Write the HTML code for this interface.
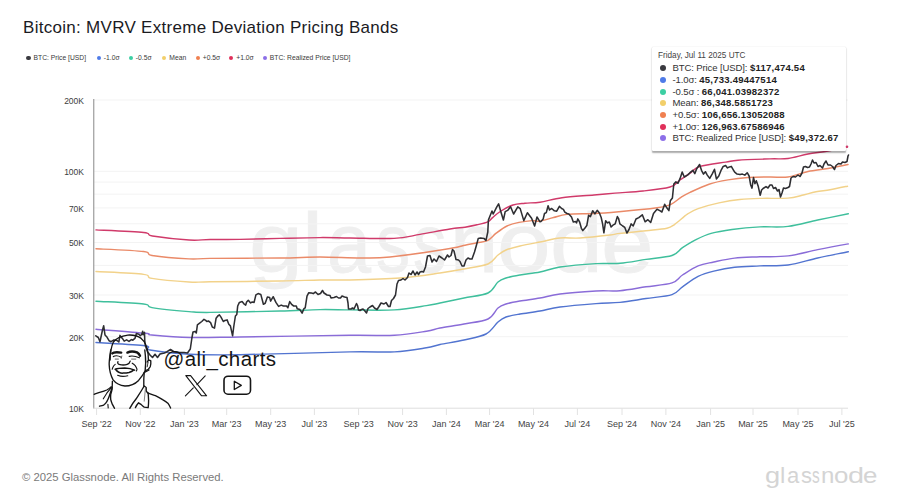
<!DOCTYPE html>
<html><head><meta charset="utf-8"><style>
html,body{margin:0;padding:0;background:#fff;}
body{width:900px;height:500px;position:relative;overflow:hidden;font-family:"Liberation Sans",sans-serif;}
.title{position:absolute;left:23px;top:18.2px;font-size:17px;letter-spacing:0.29px;color:#1b1b1f;white-space:nowrap;line-height:20px;}
.lg{position:absolute;top:53px;font-size:6.75px;color:#3a3a3a;white-space:nowrap;line-height:9px;}
.lg i{display:inline-block;width:4.4px;height:4.4px;border-radius:50%;margin-right:2.8px;vertical-align:-0.2px;}
.yl{position:absolute;left:40px;width:44px;text-align:right;font-size:8.5px;color:#3c3c3c;line-height:10px;}
.xl{position:absolute;top:419px;width:60px;text-align:center;font-size:9px;color:#444;line-height:11px;}
.wm{position:absolute;top:182.5px;font-size:84px;color:#efefef;line-height:120px;-webkit-text-stroke:0.8px #efefef;transform-origin:0 0;}
.tip{position:absolute;left:652px;top:47px;width:194px;height:104px;background:#fff;box-shadow:0 1.2px 1.5px rgba(0,0,0,0.32), 0 0 1px rgba(0,0,0,0.18);border-radius:1px;}
.tip .dt{position:absolute;left:6px;top:4.2px;font-size:8.2px;color:#444;white-space:nowrap;line-height:10px;}
.tr{position:absolute;left:7.5px;font-size:9.55px;color:#333;letter-spacing:-0.12px;white-space:nowrap;line-height:12px;}
.tr i{display:inline-block;width:6px;height:6px;border-radius:50%;margin-right:7px;vertical-align:0px;}
.tr b{color:#222;letter-spacing:0.22px;}
.foot{position:absolute;left:22px;top:470px;font-size:11.3px;color:#7a7a7a;white-space:nowrap;line-height:14px;}
.logo{position:absolute;top:416.0px;font-size:22px;color:#d4d4d4;line-height:120px;transform-origin:0 0;}
.handle{position:absolute;left:163.5px;top:346.6px;font-size:20.5px;letter-spacing:0.4px;color:#151515;white-space:nowrap;line-height:24px;}
svg{position:absolute;left:0;top:0;}
</style></head><body>
<div class="title">Bitcoin: MVRV Extreme Deviation Pricing Bands</div>
<div class="lg" style="left:26.400000000000002px"><i style="background:#3a3a40"></i>BTC: Price [USD]</div><div class="lg" style="left:96.6px"><i style="background:#4f7be8"></i>-1.0σ</div><div class="lg" style="left:128.6px"><i style="background:#3ccfa3"></i>-0.5σ</div><div class="lg" style="left:162.1px"><i style="background:#f2cf6a"></i>Mean</div><div class="lg" style="left:195.6px"><i style="background:#f08050"></i>+0.5σ</div><div class="lg" style="left:229.1px"><i style="background:#e0305a"></i>+1.0σ</div><div class="lg" style="left:262.6px"><i style="background:#8c6fe8"></i>BTC: Realized Price [USD]</div>
<div class="wm" style="left:248.7px;transform:scaleX(1.154)">g</div><div class="wm" style="left:302.4px;transform:scaleX(1.125)">l</div><div class="wm" style="left:326.7px;transform:scaleX(0.943)">a</div><div class="wm" style="left:376.4px;transform:scaleX(0.811)">s</div><div class="wm" style="left:413.4px;transform:scaleX(0.797)">s</div><div class="wm" style="left:449.9px;transform:scaleX(1.027)">n</div><div class="wm" style="left:496.6px;transform:scaleX(1.146)">o</div><div class="wm" style="left:549.6px;transform:scaleX(1.128)">d</div><div class="wm" style="left:600.6px;transform:scaleX(1.125)">e</div>
<svg width="900" height="500" viewBox="0 0 900 500">
<g stroke="#f3f3f3" stroke-width="1"><line x1="94" x2="848" y1="100.0" y2="100.0" /><line x1="94" x2="848" y1="171.3" y2="171.3" /><line x1="94" x2="848" y1="182.1" y2="182.1" /><line x1="94" x2="848" y1="194.2" y2="194.2" /><line x1="94" x2="848" y1="207.9" y2="207.9" /><line x1="94" x2="848" y1="223.8" y2="223.8" /><line x1="94" x2="848" y1="242.5" y2="242.5" /><line x1="94" x2="848" y1="265.4" y2="265.4" /><line x1="94" x2="848" y1="295.0" y2="295.0" /><line x1="94" x2="848" y1="336.7" y2="336.7" /><line x1="94" x2="848" y1="408.0" y2="408.0" /></g>
<g stroke="#e2e2e2" stroke-width="1"><line x1="96.6" x2="96.6" y1="408" y2="415"/><line x1="140.3" x2="140.3" y1="408" y2="415"/><line x1="184.4" x2="184.4" y1="408" y2="415"/><line x1="226.7" x2="226.7" y1="408" y2="415"/><line x1="270.7" x2="270.7" y1="408" y2="415"/><line x1="314.4" x2="314.4" y1="408" y2="415"/><line x1="358.6" x2="358.6" y1="408" y2="415"/><line x1="402.6" x2="402.6" y1="408" y2="415"/><line x1="446.4" x2="446.4" y1="408" y2="415"/><line x1="489.6" x2="489.6" y1="408" y2="415"/><line x1="533.5" x2="533.5" y1="408" y2="415"/><line x1="577.4" x2="577.4" y1="408" y2="415"/><line x1="622" x2="622" y1="408" y2="415"/><line x1="665.9" x2="665.9" y1="408" y2="415"/><line x1="710.6" x2="710.6" y1="408" y2="415"/><line x1="753" x2="753" y1="408" y2="415"/><line x1="798" x2="798" y1="408" y2="415"/><line x1="841.9" x2="841.9" y1="408" y2="415"/></g>
<line x1="93.7" x2="93.7" y1="99" y2="409" stroke="#aaaaaa" stroke-width="1.4"/>
<line x1="93" x2="848" y1="408.3" y2="408.3" stroke="#e4e4e4" stroke-width="1"/>
<path fill="none" stroke="#5274d0" stroke-width="1.45" stroke-linejoin="round" stroke-linecap="round" d="M96.0,342.5 C104.2,343.1 136.0,344.6 145.0,345.8 C154.0,347.1 142.5,348.6 150.0,350.0 C157.5,351.4 175.0,353.4 190.0,354.2 C205.0,355.0 213.3,355.1 240.0,354.7 C266.7,354.3 324.3,352.4 350.0,351.9 C375.7,351.4 381.7,352.6 394.4,351.9 C407.1,351.2 418.8,349.0 426.4,347.8 C434.0,346.6 433.7,345.8 440.0,344.5 C446.3,343.2 456.3,341.8 464.0,340.0 C471.7,338.2 480.3,337.0 486.0,334.0 C491.7,331.0 494.7,324.8 498.0,322.0 C501.3,319.2 502.3,318.3 506.0,317.0 C509.7,315.7 514.3,315.0 520.0,314.0 C525.7,313.0 533.3,312.2 540.0,311.0 C546.7,309.8 550.7,308.2 560.0,307.0 C569.3,305.8 586.0,304.4 596.0,303.6 C606.0,302.8 611.7,303.2 620.0,302.4 C628.3,301.5 637.3,299.8 646.0,298.5 C654.7,297.2 665.9,296.6 672.0,294.6 C678.1,292.7 678.1,289.8 682.5,286.8 C686.9,283.8 692.9,279.0 698.1,276.4 C703.3,273.8 707.7,272.6 713.8,271.1 C719.9,269.6 726.9,268.1 734.6,267.2 C742.3,266.3 751.1,266.3 760.0,265.9 C768.9,265.5 778.5,266.3 788.1,265.0 C797.7,263.7 807.7,260.2 817.7,258.0 C827.7,255.8 843.2,252.8 848.3,251.7"/><path fill="none" stroke="#8a6cd8" stroke-width="1.45" stroke-linejoin="round" stroke-linecap="round" d="M96.0,329.2 C104.2,329.9 135.7,332.3 145.0,333.3 C154.3,334.3 144.2,334.3 151.7,335.0 C159.2,335.7 175.3,337.2 190.0,337.5 C204.7,337.8 213.3,337.4 240.0,337.0 C266.7,336.6 324.3,335.6 350.0,335.3 C375.7,335.0 381.7,336.0 394.4,335.3 C407.1,334.6 418.8,332.4 426.4,331.2 C434.0,330.0 433.7,329.2 440.0,328.0 C446.3,326.8 456.0,325.5 464.0,324.0 C472.0,322.5 482.3,321.7 488.0,319.0 C493.7,316.3 495.0,310.5 498.0,308.0 C501.0,305.5 502.3,305.2 506.0,304.0 C509.7,302.8 514.3,302.0 520.0,301.0 C525.7,300.0 533.3,299.2 540.0,298.0 C546.7,296.8 550.7,295.2 560.0,294.0 C569.3,292.8 586.0,291.6 596.0,291.0 C606.0,290.4 611.7,291.4 620.0,290.7 C628.3,290.0 637.3,288.1 646.0,286.8 C654.7,285.5 665.9,284.9 672.0,282.9 C678.1,280.9 678.1,277.8 682.5,275.0 C686.9,272.2 692.9,268.1 698.1,265.9 C703.3,263.7 707.7,263.3 713.8,262.0 C719.9,260.7 726.9,259.0 734.6,258.1 C742.3,257.2 751.1,257.2 760.0,256.8 C768.9,256.4 778.5,257.1 788.1,255.9 C797.7,254.7 807.7,251.6 817.7,249.6 C827.7,247.6 843.2,244.8 848.3,243.9"/><path fill="none" stroke="#3fbf9c" stroke-width="1.45" stroke-linejoin="round" stroke-linecap="round" d="M96.0,301.2 C103.9,301.7 134.3,302.9 143.6,304.0 C152.9,305.1 144.4,306.3 152.0,307.6 C159.6,308.9 179.3,310.8 189.0,311.6 C198.7,312.4 194.8,312.5 210.0,312.4 C225.2,312.3 261.7,311.5 280.0,311.0 C298.3,310.5 308.3,309.8 320.0,309.6 C331.7,309.4 337.6,309.8 350.0,309.9 C362.4,309.9 381.7,310.6 394.4,309.9 C407.1,309.2 418.8,306.8 426.4,305.6 C434.0,304.5 433.7,304.3 440.0,303.0 C446.3,301.7 456.0,299.7 464.0,298.0 C472.0,296.3 482.3,295.7 488.0,293.0 C493.7,290.3 495.0,284.5 498.0,282.0 C501.0,279.5 502.3,279.2 506.0,278.0 C509.7,276.8 514.3,276.0 520.0,275.0 C525.7,274.0 533.3,273.3 540.0,272.0 C546.7,270.7 550.7,268.4 560.0,267.0 C569.3,265.6 586.0,264.2 596.0,263.6 C606.0,263.0 611.7,264.0 620.0,263.3 C628.3,262.6 637.3,260.7 646.0,259.4 C654.7,258.1 665.9,257.4 672.0,255.5 C678.1,253.6 678.6,250.3 682.5,247.7 C686.4,245.1 690.7,242.3 695.5,239.9 C700.3,237.5 705.0,235.1 711.1,233.4 C717.2,231.7 723.9,230.6 732.0,229.5 C740.1,228.4 750.6,227.4 760.0,226.9 C769.4,226.4 778.5,227.6 788.1,226.4 C797.7,225.2 807.7,222.1 817.7,220.0 C827.7,217.9 843.2,214.8 848.3,213.7"/><path fill="none" stroke="#f2d28a" stroke-width="1.45" stroke-linejoin="round" stroke-linecap="round" d="M96.0,271.5 C103.9,272.0 134.3,273.2 143.6,274.4 C152.9,275.5 144.4,277.1 152.0,278.4 C159.6,279.7 179.3,281.4 189.0,282.0 C198.7,282.6 194.8,282.0 210.0,281.8 C225.2,281.6 261.7,281.3 280.0,281.0 C298.3,280.7 308.3,280.2 320.0,280.0 C331.7,279.8 336.7,280.3 350.0,280.0 C363.3,279.7 385.0,279.2 400.0,278.0 C415.0,276.8 429.3,274.5 440.0,273.0 C450.7,271.5 456.0,270.5 464.0,269.0 C472.0,267.5 482.3,266.3 488.0,264.0 C493.7,261.7 495.0,257.3 498.0,255.0 C501.0,252.7 502.3,251.5 506.0,250.0 C509.7,248.5 514.3,247.3 520.0,246.0 C525.7,244.7 533.3,243.3 540.0,242.0 C546.7,240.7 553.3,238.7 560.0,238.0 C566.7,237.3 571.7,238.5 580.0,238.0 C588.3,237.5 603.3,235.8 610.0,235.0 C616.7,234.2 614.0,234.1 620.0,233.4 C626.0,232.7 638.2,231.7 646.0,230.8 C653.8,229.9 662.1,229.3 666.9,228.2 C671.7,227.1 671.2,226.7 674.7,224.3 C678.2,221.9 683.8,216.5 687.7,213.9 C691.6,211.3 692.9,210.4 698.1,208.6 C703.3,206.8 712.0,204.4 719.0,202.9 C726.0,201.4 733.0,200.2 739.8,199.5 C746.6,198.8 752.0,198.6 760.0,198.4 C768.0,198.2 781.0,198.6 788.0,198.1 C795.0,197.6 797.3,196.4 802.0,195.3 C806.7,194.2 811.3,192.7 816.0,191.8 C820.7,190.9 824.8,190.6 830.0,189.7 C835.2,188.8 844.6,186.8 847.5,186.2"/><path fill="none" stroke="#ea8a68" stroke-width="1.45" stroke-linejoin="round" stroke-linecap="round" d="M96.0,248.8 C103.9,249.2 134.3,250.4 143.6,251.5 C152.9,252.6 144.4,254.3 152.0,255.5 C159.6,256.7 179.3,258.4 189.0,258.9 C198.7,259.4 194.8,258.5 210.0,258.4 C225.2,258.2 261.7,258.2 280.0,258.0 C298.3,257.8 306.7,257.0 320.0,257.0 C333.3,257.0 348.3,258.0 360.0,258.0 C371.7,258.0 375.0,258.6 390.0,257.0 C405.0,255.4 437.5,250.5 450.0,248.5 C462.5,246.5 460.5,246.1 465.0,245.2 C469.5,244.2 473.2,243.6 477.0,242.8 C480.8,242.0 484.6,242.0 487.8,240.4 C491.0,238.8 493.0,235.6 496.2,233.2 C499.4,230.8 503.2,227.8 507.0,226.0 C510.8,224.2 514.8,223.3 519.0,222.4 C523.2,221.5 528.7,220.8 532.2,220.6 C535.7,220.4 536.5,221.6 540.0,221.1 C543.5,220.6 549.0,218.6 553.5,217.5 C558.0,216.4 560.2,215.1 567.0,214.4 C573.8,213.7 585.3,213.9 594.0,213.5 C602.7,213.1 608.5,212.6 619.0,211.7 C629.5,210.8 648.3,209.0 657.0,207.8 C665.7,206.6 667.0,206.1 671.0,204.3 C675.0,202.6 677.8,199.3 681.0,197.3 C684.2,195.3 685.3,194.6 690.0,192.4 C694.7,190.2 702.7,186.3 709.0,184.2 C715.3,182.1 721.5,181.0 728.0,179.9 C734.5,178.8 741.0,178.0 748.0,177.5 C755.0,177.0 763.3,177.1 770.0,177.0 C776.7,176.9 781.7,177.9 788.0,177.0 C794.3,176.1 801.3,172.9 808.0,171.5 C814.7,170.1 821.3,169.7 828.0,168.5 C834.7,167.3 844.7,165.2 848.0,164.5"/><path fill="none" stroke="#d03a6a" stroke-width="1.45" stroke-linejoin="round" stroke-linecap="round" d="M96.0,229.9 C103.9,230.3 134.2,231.5 143.6,232.5 C153.0,233.5 144.8,234.8 152.4,236.0 C160.0,237.2 179.6,239.4 189.2,240.0 C198.8,240.6 201.5,239.6 210.0,239.5 C218.5,239.4 228.3,239.6 240.0,239.4 C251.7,239.2 266.7,238.7 280.0,238.4 C293.3,238.1 308.3,237.7 320.0,237.6 C331.7,237.5 337.7,237.9 350.0,238.0 C362.3,238.1 382.3,239.0 394.0,238.4 C405.7,237.8 410.7,236.0 420.0,234.4 C429.3,232.8 442.5,230.2 450.0,229.0 C457.5,227.8 460.5,227.9 465.0,227.2 C469.5,226.5 473.2,225.7 477.0,224.8 C480.8,223.9 485.2,223.0 487.8,221.8 C490.4,220.6 490.4,219.4 492.6,217.6 C494.8,215.8 497.6,213.1 501.0,211.0 C504.4,208.9 509.0,206.3 513.0,205.0 C517.0,203.7 520.5,203.7 525.0,203.2 C529.5,202.7 533.8,203.1 540.0,202.2 C546.2,201.3 553.0,198.9 562.0,197.7 C571.0,196.5 585.2,195.8 594.0,195.0 C602.8,194.2 606.8,193.8 615.0,193.1 C623.2,192.4 633.8,192.0 643.0,191.0 C652.2,190.0 663.8,188.8 670.0,187.0 C676.2,185.2 676.7,182.3 680.0,180.0 C683.3,177.7 686.7,175.5 690.0,173.2 C693.3,170.9 694.1,168.2 700.0,166.4 C705.9,164.6 719.3,163.1 725.6,162.1 C731.9,161.1 730.6,160.7 738.0,160.2 C745.4,159.7 761.7,159.2 770.0,158.9 C778.3,158.6 781.7,159.3 788.0,158.5 C794.3,157.7 801.3,155.2 808.0,154.0 C814.7,152.8 821.5,152.2 828.0,151.0 C834.5,149.8 843.8,147.4 847.0,146.7"/><polyline fill="none" stroke="#2e2e32" stroke-width="1.55" stroke-linejoin="round" stroke-linecap="round" points="95.8,335.8 98.3,337.5 100.0,341.7 102.5,330.0 103.7,325.8 105.0,335.0 106.7,336.7 107.4,337.8 109.2,340.8 111.0,341.7 114.0,339.9 117.0,340.5 118.8,342.0 120.0,335.4 122.4,338.4 124.2,341.1 126.6,339.9 129.0,341.4 131.4,339.6 132.8,340.2 134.9,338.4 136.4,333.6 138.8,334.2 140.3,335.7 141.8,334.2 142.7,331.2 143.0,334.8 144.5,332.4 144.8,342.0 145.5,346.0 147.5,351.7 150.0,355.0 152.5,357.5 155.0,354.2 157.5,357.5 160.0,354.0 164.4,353.0 167.0,351.7 170.5,349.5 174.3,352.0 179.8,352.5 184.0,352.5 187.5,353.0 190.3,349.0 191.9,338.0 193.0,332.0 195.2,331.4 196.3,333.0 197.4,324.8 199.6,323.2 201.8,321.5 204.0,319.3 205.7,320.4 206.8,321.5 208.4,321.0 210.6,322.6 212.3,327.0 214.5,328.1 216.1,318.2 217.8,316.0 219.4,314.9 221.0,317.1 223.3,321.5 224.9,320.4 227.1,319.9 228.8,324.3 230.4,325.9 232.6,335.8 233.7,327.0 235.4,316.0 236.8,314.5 237.7,306.0 239.4,302.4 242.1,301.6 243.9,303.8 245.7,305.1 246.6,302.0 248.3,300.2 250.6,302.9 252.3,302.0 254.1,302.4 255.9,294.9 258.1,293.6 260.8,294.4 263.4,304.2 265.2,303.3 267.4,297.1 269.7,297.6 270.6,301.1 273.2,296.7 275.9,302.4 278.6,306.4 281.2,305.1 283.4,306.0 286.6,306.0 287.9,307.8 289.7,301.6 291.9,304.7 293.7,306.0 296.3,306.0 297.2,308.7 299.9,309.6 302.1,313.1 303.9,308.7 305.2,307.8 307.0,296.2 308.8,292.7 311.4,293.1 313.2,293.6 315.5,292.0 318.0,294.5 320.5,293.5 322.5,290.5 324.0,293.0 327.0,295.0 330.0,295.5 331.0,298.0 334.0,297.5 336.5,296.5 338.5,298.0 340.5,298.0 342.0,296.0 344.5,297.0 347.0,297.5 348.0,303.0 348.5,309.0 351.0,309.0 352.5,308.0 354.0,309.0 356.5,303.5 357.5,305.5 358.5,310.0 360.0,310.5 361.5,309.5 363.0,309.0 364.5,310.5 366.5,313.0 368.0,308.5 370.0,307.0 372.5,305.5 374.5,308.0 377.0,309.5 379.0,306.5 381.0,303.0 384.0,304.0 386.0,302.5 388.5,306.5 390.0,306.5 391.5,300.5 393.5,298.5 395.5,295.0 397.0,284.0 398.5,280.5 401.0,280.0 403.0,278.5 405.0,280.0 407.5,277.5 409.0,273.0 411.0,274.5 413.0,271.0 415.0,275.0 417.0,272.0 418.5,274.5 420.0,272.0 422.0,271.5 423.5,272.0 425.5,267.0 427.5,256.0 430.0,255.5 432.0,262.0 434.0,259.0 436.5,261.5 439.0,256.0 442.0,258.0 444.5,260.0 447.5,255.0 449.0,257.0 451.0,255.5 452.5,249.5 454.0,251.0 456.0,259.5 458.5,260.0 460.0,261.5 462.0,266.0 464.0,266.0 466.0,260.0 468.0,258.0 470.0,259.0 472.0,259.0 474.5,252.0 476.5,245.0 478.2,238.6 480.6,238.0 484.2,238.6 486.0,240.4 487.8,232.0 488.4,220.0 492.0,211.0 493.2,214.0 496.8,206.8 498.6,203.8 501.0,212.2 503.4,220.0 505.2,211.6 507.6,210.4 510.6,206.8 513.6,214.0 517.8,206.8 520.2,208.6 523.8,220.6 527.4,212.8 531.6,218.2 534.6,226.0 537.0,217.0 540.0,221.8 540.9,221.6 543.2,218.9 544.5,213.5 546.3,212.6 548.1,205.8 549.5,209.9 551.7,208.5 554.4,210.8 556.7,211.2 559.4,206.3 561.6,208.5 563.4,209.4 564.8,212.1 567.0,213.5 568.8,213.9 571.5,217.1 573.3,222.0 575.6,221.6 576.5,222.9 577.8,218.9 579.6,222.0 581.4,228.3 582.8,230.6 585.0,227.9 586.8,225.6 588.6,215.3 590.4,216.6 592.7,210.8 594.9,213.9 597.2,210.3 599.4,213.0 601.2,217.5 602.6,223.8 603.9,232.8 605.7,220.7 607.5,222.9 609.3,222.0 611.1,227.0 612.9,225.2 615.2,223.8 617.4,216.6 618.5,218.3 619.9,223.9 622.7,226.0 624.8,227.4 626.9,233.0 629.0,229.5 631.1,223.9 633.2,226.0 636.0,219.0 638.8,217.6 642.3,214.8 645.1,221.8 647.9,219.7 650.7,222.5 653.5,213.4 657.0,209.2 659.8,210.6 661.9,212.0 664.7,204.3 666.8,207.8 668.9,210.6 670.3,200.8 672.4,198.0 673.8,184.0 675.9,181.9 678.0,183.3 680.1,178.4 682.2,172.1 684.3,177.0 687.8,174.9 690.0,172.7 692.9,170.3 694.8,173.6 696.7,168.8 699.6,164.5 701.5,170.3 703.5,174.1 705.4,171.7 707.3,175.1 709.7,178.4 712.1,174.1 714.5,169.3 716.4,178.9 718.8,176.0 721.3,169.8 723.2,166.4 725.6,165.5 727.5,167.9 729.4,166.9 731.3,166.4 733.3,169.8 734.7,172.2 737.1,174.1 740.0,174.6 742.4,174.1 744.8,175.1 747.2,172.7 749.1,176.0 750.6,184.7 752.0,188.1 753.5,177.5 754.9,183.7 756.3,180.8 758.3,186.6 760.2,195.3 761.6,190.0 763.1,188.5 766.0,186.6 768.0,188.0 770.0,185.0 772.0,185.0 773.5,188.5 775.5,187.5 777.5,191.0 779.0,189.5 780.5,197.0 782.0,193.0 783.5,188.0 785.5,188.5 788.0,187.5 789.5,186.5 791.0,178.0 793.0,176.5 795.5,177.0 798.0,175.0 800.0,176.5 802.0,173.0 803.5,167.0 805.5,166.5 807.5,167.5 809.5,167.0 811.0,164.0 812.5,160.0 814.0,163.0 816.0,162.5 818.0,166.5 820.0,165.5 822.5,168.0 824.0,164.0 826.0,161.0 828.0,165.0 830.5,165.0 832.5,166.5 834.5,169.5 836.0,165.5 838.5,163.5 841.0,164.0 842.5,162.0 845.0,162.5 847.0,161.5 848.0,156.0 848.5,155.0"/>
</svg>
<div class="yl" style="top:95.8px">200K</div><div class="yl" style="top:167.1px">100K</div><div class="yl" style="top:203.7px">70K</div><div class="yl" style="top:238.3px">50K</div><div class="yl" style="top:290.8px">30K</div><div class="yl" style="top:332.5px">20K</div><div class="yl" style="top:403.8px">10K</div>
<div class="xl" style="left:66.6px">Sep '22</div><div class="xl" style="left:110.30000000000001px">Nov '22</div><div class="xl" style="left:154.4px">Jan '23</div><div class="xl" style="left:196.7px">Mar '23</div><div class="xl" style="left:240.7px">May '23</div><div class="xl" style="left:284.4px">Jul '23</div><div class="xl" style="left:328.6px">Sep '23</div><div class="xl" style="left:372.6px">Nov '23</div><div class="xl" style="left:416.4px">Jan '24</div><div class="xl" style="left:459.6px">Mar '24</div><div class="xl" style="left:503.5px">May '24</div><div class="xl" style="left:547.4px">Jul '24</div><div class="xl" style="left:592px">Sep '24</div><div class="xl" style="left:635.9px">Nov '24</div><div class="xl" style="left:680.6px">Jan '25</div><div class="xl" style="left:723px">Mar '25</div><div class="xl" style="left:768px">May '25</div><div class="xl" style="left:811.9px">Jul '25</div>
<div class="tip"><div class="dt">Friday, Jul 11 2025 UTC</div><div class="tr" style="top:15.2px"><i style="background:#3a3a40"></i>BTC: Price [USD]: <b>$117,474.54</b></div><div class="tr" style="top:26.9px"><i style="background:#4f7be8"></i>-1.0σ: <b>45,733.49447514</b></div><div class="tr" style="top:38.5px"><i style="background:#3ccfa3"></i>-0.5σ : <b>66,041.03982372</b></div><div class="tr" style="top:50.2px"><i style="background:#f2cf6a"></i>Mean: <b>86,348.5851723</b></div><div class="tr" style="top:61.9px"><i style="background:#f08050"></i>+0.5σ: <b>106,656.13052088</b></div><div class="tr" style="top:73.6px"><i style="background:#e0305a"></i>+1.0σ: <b>126,963.67586946</b></div><div class="tr" style="top:85.2px"><i style="background:#8c6fe8"></i>BTC: Realized Price [USD]: <b>$49,372.67</b></div></div>
<svg width="900" height="500" viewBox="0 0 900 500"><circle cx="847" cy="146.7" r="1.3" fill="#d03a6a"/></svg>
<svg width="900" height="500" viewBox="0 0 900 500" fill="none" stroke="#151515" stroke-width="1.35" stroke-linecap="round" stroke-linejoin="round">
<path d="M110.1,360 C110.2,354 110.6,348 113.4,342 C116,338.5 121,336 127.8,335.1 C132,334.8 137,335.5 141.2,338.4 C145,341.5 147.3,347 148.1,354 L148.4,360"/>
<path d="M110.7,350 C109.8,356 109,361 109.2,365 C109.4,370 110.5,375 113.1,379.9 C115.5,383 120,385.5 125,386 C131,386 135.5,383.5 138.6,380.4 C141.5,377 143.5,374 145.1,371 C145.6,366 145.8,360 145.4,356 L144.8,350"/>
<path d="M147.2,362 C147.8,360.5 149,359.6 150.8,360.8 C151,363 150.8,365 150.2,366.8 C149.5,368.5 148.4,369.8 145.4,370.7"/>
<path d="M147.2,366.8 C147.6,365 147.8,363 148.1,362" stroke-width="0.9"/>
<path d="M112.3,353.4 C113.5,352.2 117,352 121.2,352.6" stroke-width="2.4"/>
<path d="M127.4,352.6 C130,351.2 134,351.3 137,352.4 C138.5,353.2 139.5,354.5 140,355.8" stroke-width="2.4"/>
<path d="M113.4,356.6 C115,355.6 118,355.5 121.2,357.2" stroke-width="1.2"/>
<path d="M129.2,356.3 C131.5,355.8 135,355.8 139.4,357.8" stroke-width="1.2"/>
<path d="M115.2,359.1 L118.4,359.1 M131.6,359.1 L135.8,359.1" stroke-width="0.9" stroke="#555"/>
<path d="M121.8,356 L121.3,358.4" stroke-width="0.9" stroke="#555"/>
<path d="M117.9,361.7 C117.4,363 117.8,364.3 120,364.7 C122,365.1 125,365.1 127.2,364.4 C129,363.8 129.8,362.6 130.2,361.1" stroke-width="1.3"/>
<path d="M115.2,364.4 C114,365.3 113.2,366.5 112.8,367.5 C112.5,368.5 112.3,369 112.2,369.2" stroke-width="1.1"/>
<path d="M132.2,363.2 C133.5,364 134.6,365 135.2,365.6 C136.2,367 136.8,368.5 137,369.2 C136.9,370 136.6,370.6 136.4,371" stroke-width="1.1"/>
<path d="M115.2,369.2 C117,368.5 120,368.1 124.8,368 C128,368.1 131,368.4 134.6,370.1" stroke-width="1.6"/>
<path d="M115.8,369.8 C116.8,371 117.8,371.8 118.8,372.2 C120.5,373 122,373.2 123,373.1 C125.5,373.1 127.5,372.9 129,372.5 C131,371.8 132.3,371.2 133.2,370.4" stroke-width="1.5"/>
<path d="M117.6,375.2 C119.5,376 121.5,376.4 123,376.4 C125,376.4 126.5,376.1 127.8,375.8" stroke-width="1.1"/>
<path d="M112.4,381.3 C112.3,385 112.1,389 112.1,389 C111.5,392 110.9,393.5 110.7,394.6 C110.5,397 110.6,398.5 110.7,399.5 C111.2,401.5 111.8,403 112.4,404.4 C113.2,406 113.9,407.2 114.5,408.3"/>
<path d="M94.2,394.3 C96.5,393.5 98.5,392.8 100.5,392.2 C103,391.5 105,390.8 106.8,390 C108.5,389 110,388 111,386.9"/>
<path d="M103.3,398.8 C104.5,396.8 105.6,395 106.8,393.2 C108.5,391 110.2,389 111.7,386.9" stroke-width="1.1"/>
<path d="M99.5,406.2 C101,405.9 102.5,405.6 103.7,405.1 C105,404 106,403 106.8,401.6 C108,399.5 108.7,397.8 109.3,396 C110.5,392.5 111.3,390 112.1,387.6"/>
<path d="M107.9,404.4 L108.2,407.9" stroke-width="1.1"/>
<path d="M144.2,373.2 C144,376 143.8,378 143.8,379.6 C143.8,382 143.8,384 143.8,386"/>
<path d="M129.8,408.4 C131.5,405 134,401.5 136.2,398.8 C138,396 140,393 141.8,390 C142.8,388.5 143.5,387 144.2,386 C145,386.5 145.8,387 146.2,387.6 C146.3,389 146.2,390 146.2,390.8 C146.8,391.8 147.5,392.6 148.2,393.2"/>
<path d="M135.4,407.6 C136.4,405.5 137.5,404 138.6,402.8 C139.5,403.3 140.2,403.8 141,404.4 C142,405.5 143,406.5 144.2,407.2 C145.5,407.5 147,407.6 148.2,407.6 C148.5,405 148.6,402.5 148.6,400.4 C148.5,398 148.3,395.5 148.2,393.2"/>
<path d="M145.4,388.4 C145,393 144.6,397 144.2,401.2" stroke-width="0.8" stroke="#666"/>
<path d="M148.2,393.2 C150.5,394 153,394.8 155.4,395.6 C158,396.8 160.5,398.2 162.6,399.6 C165,401 166.8,402.2 168.2,403.6 C169.2,405 170,406.5 170.6,408"/>
<path d="M144.2,372.4 C145.8,371.6 147.5,370.8 149,370"/>
<!-- X logo -->
<path d="M185.8,375.6 L190.6,375.6 L206.6,395.8 L201.6,395.8 Z" stroke-width="1.1"/>
<path d="M205.2,375.8 L196.9,384.7 M193.3,387.8 L185.4,395.8" stroke-width="1.1"/>
<!-- youtube -->
<rect x="224" y="376.2" width="26.5" height="18" rx="4" stroke-width="1.6"/>
<path d="M234.3,381.3 L234.3,389.5 L241.3,385.4 Z" stroke-width="1.3"/>
</svg>

<div class="handle">@ali_charts</div>
<div class="foot">© 2025 Glassnode. All Rights Reserved.</div>
<div class="logo" style="left:765.4px;transform:scaleX(1.238)">g</div><div class="logo" style="left:780.3px;transform:scaleX(1.091)">l</div><div class="logo" style="left:786.9px;transform:scaleX(1.003)">a</div><div class="logo" style="left:800.5px;transform:scaleX(0.997)">s</div><div class="logo" style="left:812.2px;transform:scaleX(0.700)">s</div><div class="logo" style="left:821.0px;transform:scaleX(1.091)">n</div><div class="logo" style="left:834.1px;transform:scaleX(1.175)">o</div><div class="logo" style="left:847.9px;transform:scaleX(1.311)">d</div><div class="logo" style="left:862.8px;transform:scaleX(1.175)">e</div>
</body></html>
